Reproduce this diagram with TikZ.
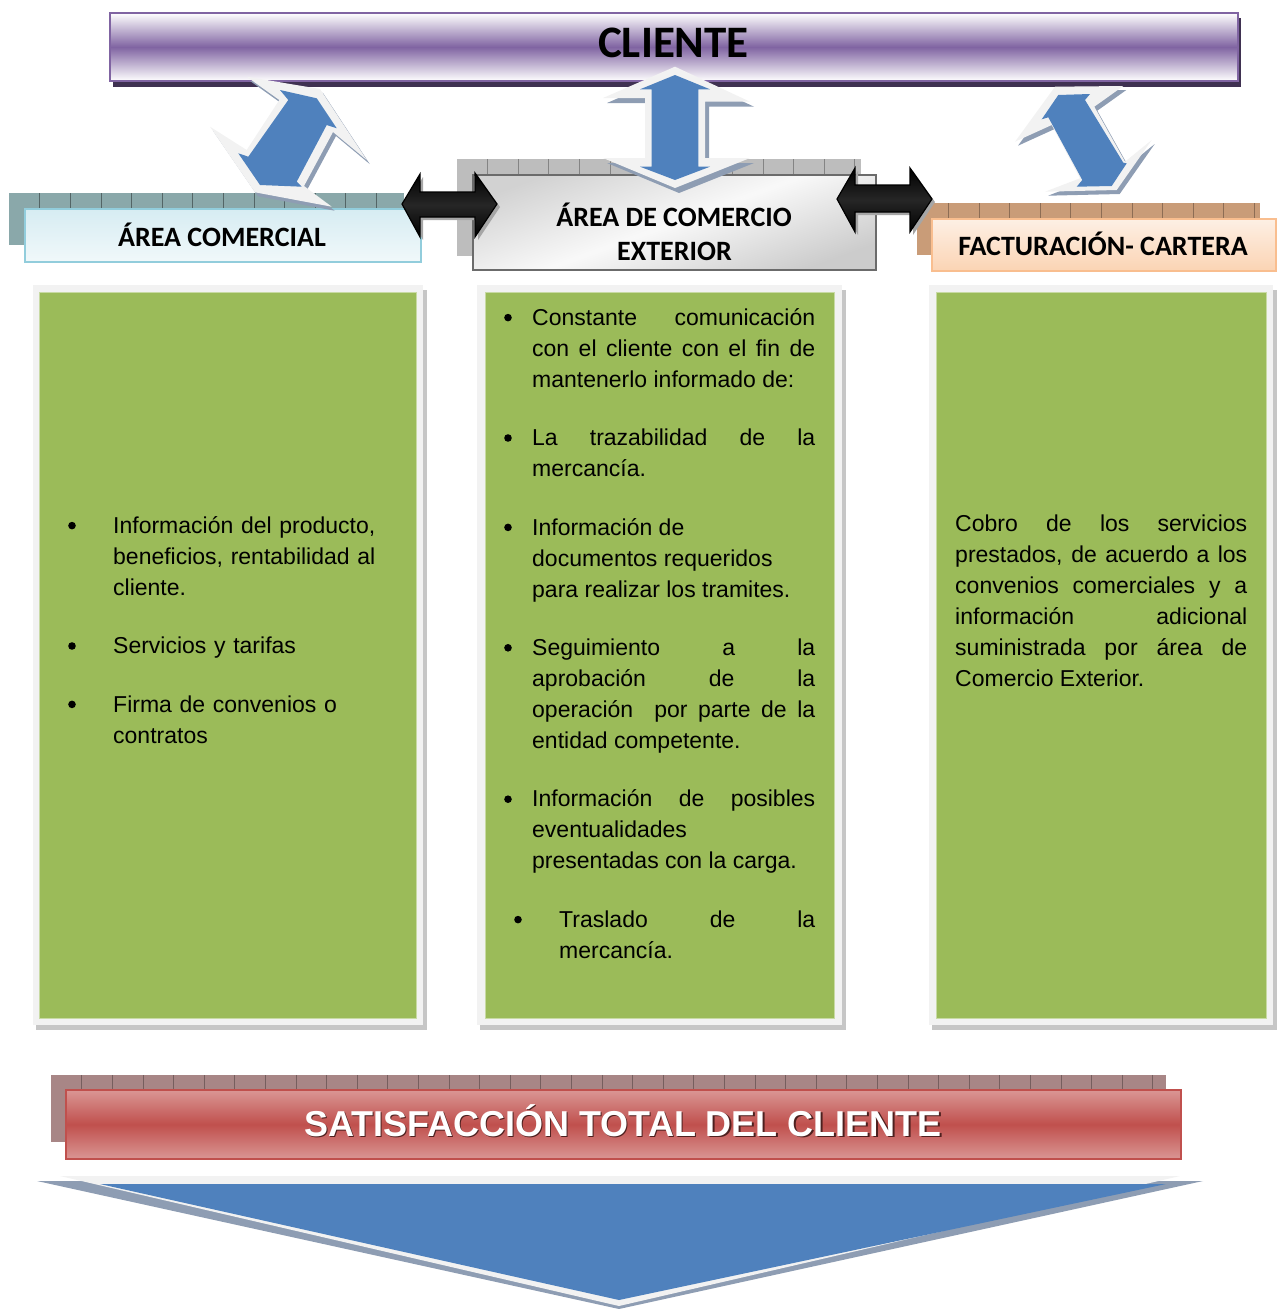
\documentclass[tikz,border=0pt]{standalone}
\usepackage{fontspec}
\setmainfont{Liberation Sans}
\newfontfamily\hdfont{Carlito}
\usetikzlibrary{positioning}

\definecolor{cliPurple}{HTML}{8064A2}
\definecolor{cliShadow}{HTML}{3F3151}
\definecolor{comBlue}{HTML}{D6ECF2}
\definecolor{comBorder}{HTML}{92CDDC}
\definecolor{comTex}{HTML}{8AA8AA}
\definecolor{exBorder}{HTML}{6B6B6B}
\definecolor{exTex}{HTML}{BDBDBD}
\definecolor{facPeach}{HTML}{FBD4B4}
\definecolor{facBorder}{HTML}{F9BE8F}
\definecolor{facTex}{HTML}{C99C78}
\definecolor{boxGreen}{HTML}{9BBB59}
\definecolor{frameGray}{HTML}{F2F2F2}
\definecolor{arrowBlue}{HTML}{4F81BD}
\definecolor{arrowShadow}{HTML}{8E9DB3}
\definecolor{satRed}{HTML}{C0504D}
\definecolor{satLight}{HTML}{DA9694}
\definecolor{satTex}{HTML}{A88686}

\newcommand{\bodyfont}{\fontsize{23}{31}\selectfont\hyphenpenalty=10000\exhyphenpenalty=10000\tolerance=10000}

\tikzset{
  head/.style={anchor=base, inner sep=0pt, font=\hdfont\bfseries\fontsize{28}{34}\selectfont},
  item/.style={anchor=north west, inner sep=0pt, text width=283pt, align=justify, font=\bodyfont,
    execute at begin node=\strut, execute at end node=\strut},
  bevel/.style={fill=frameGray},
  bluearrow/.style={fill=arrowBlue},
  blackarrow/.style={top color=black, bottom color=black, middle color=black!85, draw=black, line width=1.2pt},
}

\begin{document}
\begin{tikzpicture}[x=1pt,y=-1pt]
\useasboundingbox (0,0) rectangle (1280,1309);

% textured backs
\fill[comTex] (9,193) rectangle (404,245);
\foreach \x in {39.6,70.2,...,404} \draw[comTex!60!black, line width=0.6pt] (\x,193) -- (\x,245);
\fill[exTex] (457,159) rectangle (861,256);
\foreach \x in {487.5,518.1,...,861} \draw[exTex!70!black, line width=0.6pt] (\x,159) -- (\x,256);
\fill[facTex] (917,203) rectangle (1260,255);
\foreach \x in {948.2,978.8,...,1260} \draw[facTex!70!black, line width=0.6pt] (\x,203) -- (\x,255);
\fill[satTex] (51,1075) rectangle (1166,1142);
\foreach \x in {81.6,112.2,...,1166} \draw[satTex!70!black, line width=0.6pt] (\x,1075) -- (\x,1142);

% cliente
\fill[cliShadow] (113,18) rectangle (1241,87);
\shadedraw[top color=white, bottom color=white, middle color=cliPurple, draw=cliPurple, line width=2.5pt] (110,13) rectangle (1238,81);

% three areas
\shadedraw[top color=comBlue, bottom color=comBlue!35, draw=comBorder, line width=2pt] (24.5,208.5) rectangle (420.5,261.5);
\shadedraw[top color=gray!35, bottom color=gray!40, middle color=gray!5, shading angle=20, draw=exBorder, line width=2.5pt] (473,175) rectangle (876,270);
\shadedraw[top color=facPeach!35, bottom color=facPeach, draw=facBorder, line width=2pt] (932,218.5) rectangle (1276,270.5);

% green boxes
\fill[gray!45] (36,290) rectangle (427,1030);
\fill[frameGray] (33,285) rectangle (423,1025);
\filldraw[fill=boxGreen, draw=boxGreen!55!white, line width=1pt] (39,292) rectangle (416,1018);
\fill[gray!45] (480,290) rectangle (846,1030);
\fill[frameGray] (477,285) rectangle (842,1025);
\filldraw[fill=boxGreen, draw=boxGreen!55!white, line width=1pt] (485,292) rectangle (834,1018);
\fill[gray!45] (932,290) rectangle (1277,1030);
\fill[frameGray] (929,285) rectangle (1273,1025);
\filldraw[fill=boxGreen, draw=boxGreen!55!white, line width=1pt] (936,292) rectangle (1266,1018);

% satisfaccion
\shadedraw[top color=satLight, bottom color=satLight, middle color=satRed, draw=satRed, line width=2pt] (66,1090) rectangle (1181,1159);

% blue double arrows
\fill[arrowShadow, shift={(3,4)}] (246.7,76.7) -- (320,89) -- (366.7,160) -- (333,132) -- (304,186) -- (331.7,206.7) -- (255,192.3) -- (210,126.7) -- (246.7,150) -- (279.3,100) -- cycle;
\fill[bevel] (246.7,76.7) -- (320,89) -- (366.7,160) -- (333,132) -- (304,186) -- (331.7,206.7) -- (255,192.3) -- (210,126.7) -- (246.7,150) -- (279.3,100) -- cycle;
\fill[bluearrow] (280,90) -- (316.7,98.3) -- (336.7,128.3) -- (326.7,125) -- (296.7,181.7) -- (301.7,186.7) -- (260,185) -- (238.3,153.3) -- (248.3,156.7) -- (288.3,100) -- cycle;

\fill[arrowShadow, shift={(4,5)}] (675,66.7) -- (750,101.7) -- (705,101.7) -- (705,158) -- (750,158) -- (675,188) -- (603,158) -- (645,158) -- (645,98) -- (603,98) -- cycle;
\fill[bevel] (675,66.7) -- (750,101.7) -- (705,101.7) -- (705,158) -- (750,158) -- (675,188) -- (603,158) -- (645,158) -- (645,98) -- (603,98) -- cycle;
\fill[bluearrow] (675,75) -- (710,89.3) -- (698.3,89.3) -- (698.3,166.7) -- (710,166.7) -- (675,180) -- (640,166.7) -- (651.7,166.7) -- (651.7,89.3) -- (640,89.3) -- cycle;

\fill[arrowShadow, shift={(3,4)}] (1055,86.7) -- (1123.3,86) -- (1094.3,106.7) -- (1125,161.7) -- (1151.7,140) -- (1116.7,190) -- (1045,191.7) -- (1080,178.3) -- (1051.7,125) -- (1015,141.7) -- cycle;
\fill[bevel] (1055,86.7) -- (1123.3,86) -- (1094.3,106.7) -- (1125,161.7) -- (1151.7,140) -- (1116.7,190) -- (1045,191.7) -- (1080,178.3) -- (1051.7,125) -- (1015,141.7) -- cycle;
\fill[bluearrow] (1058.3,95) -- (1090,94) -- (1085,100) -- (1123.3,162.7) -- (1126.7,163.3) -- (1111.7,186) -- (1076.7,186.7) -- (1082.3,180) -- (1048.3,117.3) -- (1041.7,119.3) -- cycle;

% black double arrows
\fill[gray!70, shift={(3,3)}] (402,204) -- (420,174) -- (420,192) -- (475,192) -- (475,173) -- (497,204) -- (475,237) -- (475,217) -- (420,217) -- (420,237) -- cycle;
\shadedraw[blackarrow] (402,204) -- (420,174) -- (420,192) -- (475,192) -- (475,173) -- (497,204) -- (475,237) -- (475,217) -- (420,217) -- (420,237) -- cycle;
\fill[gray!70, shift={(3,3)}] (837,199) -- (855,168) -- (855,185) -- (910,185) -- (910,168) -- (932,199) -- (910,232) -- (910,212) -- (855,212) -- (855,232) -- cycle;
\shadedraw[blackarrow] (837,199) -- (855,168) -- (855,185) -- (910,185) -- (910,168) -- (932,199) -- (910,232) -- (910,212) -- (855,212) -- (855,232) -- cycle;

% big arrow down
\fill[arrowShadow] (37,1181) -- (1203,1181) -- (619,1309) -- cycle;
\fill[bevel] (60,1176) -- (1180,1176) -- (619,1306) -- cycle;
\fill[bluearrow] (100,1184) -- (1166,1184) -- (619,1300) -- cycle;

% titles
\node[head, font=\hdfont\bfseries\fontsize{45}{50}\selectfont] (cliente) at (673.5,57) {CLIENTE};
\node[head] (comercial) at (222,246.7) {ÁREA COMERCIAL};
\node[head] (exterior) at (674,226) {ÁREA DE COMERCIO};
\node[head] (exterior2) at (674.5,260) {EXTERIOR};
\node[head] (facturacion) at (1103,255) {FACTURACIÓN- CARTERA};
\node[anchor=base, inner sep=0pt, text=satRed!40!black, font=\bfseries\fontsize{36}{40}\selectfont] (satisS) at (624.2,1137.2) {SATISFACCIÓN TOTAL DEL CLIENTE};
\node[anchor=base, inner sep=0pt, text=white, font=\bfseries\fontsize{36}{40}\selectfont] (satis) at (623,1136) {SATISFACCIÓN TOTAL DEL CLIENTE};

% left box
\node[item, align=left, text width=282pt] (com1) at (113,511.3) {Información del producto,\\ beneficios, rentabilidad al\\ cliente.};
\node[item, align=left, text width=282pt, below=27pt of com1.south west, anchor=north west] (com2) {Servicios y tarifas};
\node[item, align=left, text width=282pt, below=27pt of com2.south west, anchor=north west] (com3) {Firma de convenios o\\ contratos};
\foreach \n in {com1,com2,com3} \fill ([xshift=-41pt,yshift=-14.3pt]\n.north west) circle (3.8pt);

% middle box
\node[item] (ext1) at (532,303.3) {Constante comunicación\linebreak con el cliente con el fin de\linebreak mantenerlo informado de:};
\node[item, below=27pt of ext1.south west, anchor=north west] (ext2) {La trazabilidad de la\linebreak mercancía.};
\node[item, below=27pt of ext2.south west, anchor=north west] (ext3) {Información de\newline documentos requeridos\newline para realizar los tramites.};
\node[item, below=27pt of ext3.south west, anchor=north west] (ext4) {Seguimiento a la\linebreak aprobación de la\linebreak operación \ por parte de la\linebreak entidad competente.};
\node[item, below=27pt of ext4.south west, anchor=north west] (ext5) {Información de posibles\linebreak eventualidades\newline presentadas con la carga.};
\node[item, text width=256pt, below=27pt of ext5.south west, anchor=north west, xshift=27pt] (ext6) {Traslado de la\linebreak mercancía.};
\foreach \n in {ext1,ext2,ext3,ext4,ext5} \fill ([xshift=-24pt,yshift=-14.3pt]\n.north west) circle (3.8pt);
\fill ([xshift=-41pt,yshift=-14.3pt]ext6.north west) circle (3.8pt);

% right box
\node[item, text width=292pt] (fac1) at (955,509.3) {Cobro de los servicios\linebreak prestados, de acuerdo a los\linebreak convenios comerciales y a\linebreak información adicional\linebreak suministrada por área de\linebreak Comercio Exterior.};
\end{tikzpicture}
\end{document}
